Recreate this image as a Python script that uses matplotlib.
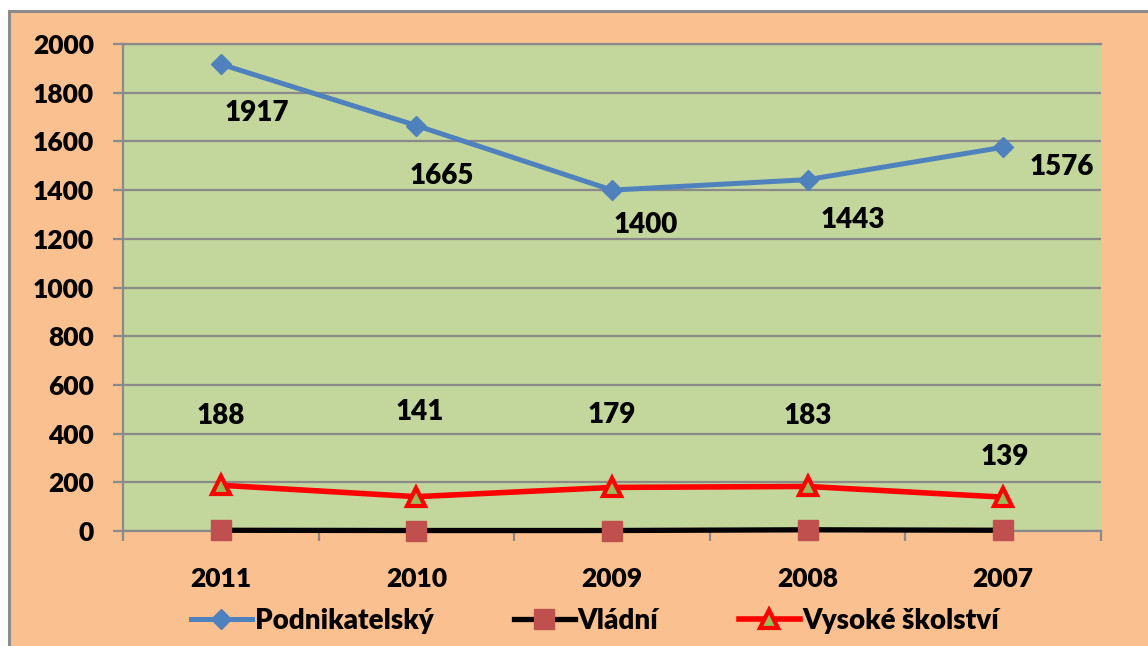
import matplotlib
matplotlib.use("Agg")
import matplotlib.pyplot as plt
from matplotlib.patches import Rectangle
from matplotlib.lines import Line2D

years = ["2011", "2010", "2009", "2008", "2007"]
podnikatelsky = [1917, 1665, 1400, 1443, 1576]
vladni = [3, 2, 2, 5, 3]
vysoke = [188, 141, 179, 183, 139]
yticks = [0, 200, 400, 600, 800, 1000, 1200, 1400, 1600, 1800, 2000]

# label offsets in pixels (position styling)
pod_off = [(36, -49), (25, -50), (34, -35), (45, -40), (59, -20)]
vys_off = [(0, 69), (3, 85), (0, 72), (0, 70), (2, 40)]

plt.rcParams['font.family'] = ['Lato', 'DejaVu Sans']
plt.rcParams['font.weight'] = 'heavy'
WT = 'heavy'

W, H = 1148, 646
fig = plt.figure(figsize=(W / 100, H / 100), dpi=100, facecolor='white')
fig.patches.append(Rectangle((9 / W, -0.1), 1.2, 1.1 - 11 / H, transform=fig.transFigure,
                             facecolor='#FAC090', edgecolor='#8C8C8C', linewidth=2.2, zorder=-5))

ax = fig.add_axes([123 / W, 1 - 531 / H, (1101 - 123) / W, (531 - 44) / H])
ax.set_facecolor('#C3D69B')
x = list(range(len(years)))

ax.set_xlim(-0.5, 4.5)
ax.set_ylim(0, 2000)
ax.set_yticks(yticks)
ax.yaxis.grid(True, color='#8A8A8A', linewidth=1.6)
ax.set_axisbelow(True)
ax.spines['right'].set_visible(False)
for s in ['top', 'left', 'bottom']:
    ax.spines[s].set_color('#8A8A8A')
    ax.spines[s].set_linewidth(1.6)

ax.set_xticks([i - 0.5 for i in range(len(years) + 1)])
ax.set_xticklabels([])
ax.set_xticks(x, minor=True)
ax.set_xticklabels(years, minor=True)
ax.tick_params(axis='x', which='major', direction='out', length=7, width=1.6, color='#8A8A8A')
ax.tick_params(axis='x', which='minor', length=0, pad=26, labelsize=19)
ax.tick_params(axis='y', direction='out', length=7, width=1.6, color='#8A8A8A', pad=14, labelsize=19)
for lbl in ax.get_xticklabels(minor=True) + ax.get_yticklabels():
    lbl.set_fontweight(WT)

ax.plot(x, podnikatelsky, color='#4F81BD', linewidth=3.6, marker='D', markersize=10,
        markerfacecolor='#4F81BD', markeredgecolor='#4F81BD', clip_on=False, zorder=4)
ax.plot(x, vladni, color='black', linewidth=3.8, marker='s', markersize=14,
        markerfacecolor='#C0504D', markeredgecolor='#C0504D', clip_on=False, zorder=5)
ax.plot(x, vysoke, color='#FF0000', linewidth=4, marker='^', markersize=13,
        markerfacecolor='#9BBB59', markeredgecolor='#FF0000', markeredgewidth=3, clip_on=False, zorder=6)

for xi, v, off in zip(x, podnikatelsky, pod_off):
    ax.annotate(str(v), (xi, v), xytext=off, textcoords='offset pixels',
                ha='center', va='center', fontsize=20, fontweight=WT)
for xi, v, off in zip(x, vysoke, vys_off):
    ax.annotate(str(v), (xi, v), xytext=off, textcoords='offset pixels',
                ha='center', va='center', fontsize=20, fontweight=WT)

handles = [
    Line2D([], [], color='#4F81BD', linewidth=3.6, marker='D', markersize=10),
    Line2D([], [], color='black', linewidth=3.8, marker='s', markersize=14,
           markerfacecolor='#C0504D', markeredgecolor='#C0504D'),
    Line2D([], [], color='#FF0000', linewidth=4, marker='^', markersize=13,
           markerfacecolor='#9BBB59', markeredgecolor='#FF0000', markeredgewidth=3),
]
fig.legend(handles, ['Podnikatelský', 'Vládní', 'Vysoké školství'], loc='center',
           bbox_to_anchor=(595 / W, 1 - 621 / H), ncol=3, frameon=False,
           prop={'size': 20, 'weight': WT}, handlelength=2.2, handletextpad=0.1,
           columnspacing=2.9)

fig.savefig('out.png', dpi=100, facecolor='white')
